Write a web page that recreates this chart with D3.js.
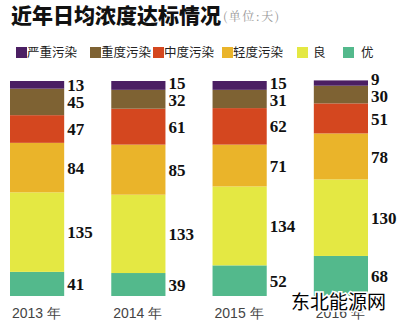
<!DOCTYPE html>
<html><head><meta charset="utf-8">
<script src="https://cdn.jsdelivr.net/npm/d3@7/dist/d3.min.js"></script>
<style>body{margin:0;background:#fff}svg{display:block}</style>
</head><body><svg id="c" width="400" height="325"></svg>
<script>
const years = ["2013年","2014年","2015年","2016年"];
const categories = ["优","良","轻度污染","中度污染","重度污染","严重污染"];
const you      = [41, 39, 52, 68];
const liang    = [135, 133, 134, 130];
const qingdu   = [84, 85, 71, 78];
const zhongdu  = [47, 61, 62, 51];
const zhongdu2 = [45, 32, 31, 30];
const yanzhong = [13, 15, 15, 9];
const seriesValues = [you, liang, qingdu, zhongdu, zhongdu2, yanzhong];
const legendOrder = ["严重污染","重度污染","中度污染","轻度污染","良","优"];
const colors = {"优":"#53b98c","良":"#e4e843","轻度污染":"#eab42a","中度污染":"#d4471f","重度污染":"#7e6233","严重污染":"#4b1f63"};

const svg = d3.select("#c");
const rows = years.map((y,i)=>{const r={year:y}; categories.forEach((c,k)=>r[c]=seriesValues[k][i]); return r;});
const stack = d3.stack().keys(categories)(rows);

const x = d3.scaleBand().domain(years).range([10, 368]).paddingInner(0.465).paddingOuter(0);
const y = d3.scaleLinear().domain([0, 365]).range([296, 81]);

// title
svg.append("text").attr("x",11).attr("y",23).attr("font-family","Noto Sans CJK SC").attr("font-weight","900").attr("font-size",21).attr("fill","#111").text("近年日均浓度达标情况");
svg.append("text").attr("x",223).attr("y",21).attr("font-family","Noto Serif CJK SC, Noto Sans CJK SC").attr("font-size",12).attr("letter-spacing",1.5).attr("fill","#999").text("(单位:天)");

// legend
const legX = [16, 90, 153, 222, 297, 343];
const legTX = [27, 101, 164, 233, 313, 361];
legendOrder.forEach((c,i)=>{
  svg.append("rect").attr("x",legX[i]).attr("y",47).attr("width",11).attr("height",11).attr("fill",colors[c]);
  svg.append("text").attr("x",legTX[i]).attr("y",57).attr("font-family","Noto Sans CJK SC").attr("font-size",12.5).attr("fill","#222").text(c);
});

// bars
const g = svg.append("g");
stack.forEach(s=>{
  g.selectAll(null).data(s).enter().append("rect")
    .attr("x",d=>x(d.data.year)).attr("width",x.bandwidth())
    .attr("y",d=>y(d[1])).attr("height",d=>y(d[0])-y(d[1]))
    .attr("fill",colors[s.key]);
});
// value labels with simple collision handling for the top two
const labels = [];
years.forEach((yr,i)=>{
  const cs = stack.map(s=>({year:yr, v:s[i][1]-s[i][0], c:(y(s[i][0])+y(s[i][1]))/2}));
  const n = cs.length;
  const gap = cs[n-2].c - cs[n-1].c;
  const minGap = 17;
  if (gap < minGap) { const d = minGap-gap; cs[n-1].c -= d*0.75; cs[n-2].c += d*0.25; }
  labels.push(...cs);
});
g.selectAll("text.val").data(labels).enter().append("text").attr("class","val")
  .attr("x",d=>x(d.year)+x.bandwidth()+3)
  .attr("y",d=>d.c).attr("dy","0.36em")
  .attr("font-family","Liberation Serif").attr("font-weight","bold").attr("font-size",17).attr("fill","#111")
  .text(d=>d.v);
// year labels
years.forEach(yr=>{
  svg.append("text").attr("x",x(yr)+2).attr("y",318).attr("font-family","Liberation Sans").attr("font-size",14).attr("fill","#444")
    .text(yr.replace("年"," 年"));
});
// watermark
svg.append("text").attr("x",291).attr("y",309).attr("font-family","Noto Sans CJK SC").attr("font-size",19)
  .attr("fill","#000").attr("stroke","#fff").attr("stroke-width",3).attr("paint-order","stroke").text("东北能源网");
</script></body></html>
